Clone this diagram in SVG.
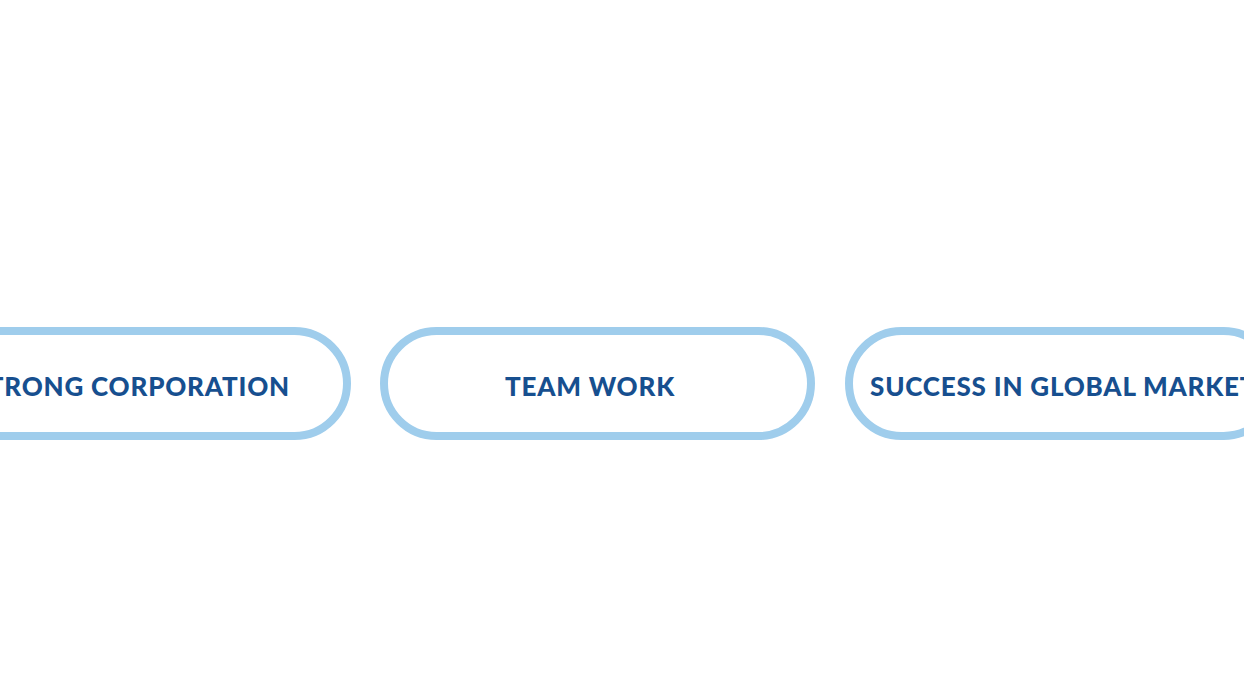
<svg xmlns="http://www.w3.org/2000/svg" width="1244" height="700" viewBox="0 0 1244 700">
<style>
.pill{fill:#ffffff;stroke:#9fcdec;stroke-width:8}
.lbl{font-family:Lato,"Liberation Sans",sans-serif;font-weight:900;font-size:26px;fill:#174f8f;letter-spacing:0.8px}
</style>
<rect width="1244" height="700" fill="#ffffff"/>
<g id="connectors"></g>
<g id="node-strong-corporation">
<rect class="pill" x="-80" y="331" width="427" height="105" rx="52.5"/>
<text class="lbl" x="290" y="396" text-anchor="end">STRONG CORPORATION</text>
</g>
<g id="node-team-work">
<rect class="pill" x="384" y="331" width="427" height="105" rx="52.5"/>
<text class="lbl" x="590" y="396" text-anchor="middle">TEAM WORK</text>
</g>
<g id="node-success">
<rect class="pill" x="849" y="331" width="427" height="105" rx="52.5"/>
<text class="lbl" x="870" y="396">SUCCESS IN GLOBAL MARKET</text>
</g>
</svg>
